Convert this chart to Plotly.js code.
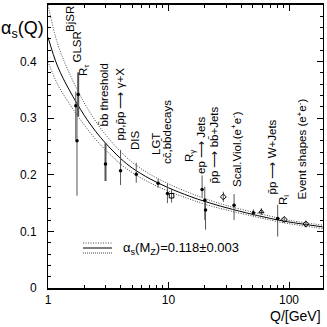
<!DOCTYPE html>
<html>
<head>
<meta charset="utf-8">
<script src="https://cdn.plot.ly/plotly-3.0.1.min.js"></script>
<style>
  body { margin: 0; background: #fff; }
  #chart { width: 327px; height: 327px; }
</style>
</head>
<body>
<div id="chart"></div>
<script>
// running coupling curves (alpha_s(MZ) = 0.118 +- 0.003)
const curveQ     = [1, 1.2, 1.5, 2, 2.5, 3, 4, 5, 7, 10, 15, 20, 30, 50, 70, 91.2, 130, 190];
const curveMid   = [0.443, 0.392, 0.350, 0.305, 0.276, 0.256, 0.229, 0.212, 0.193, 0.177, 0.162, 0.153, 0.142, 0.130, 0.123, 0.118, 0.113, 0.108];
const curveHigh  = [0.500, 0.432, 0.380, 0.327, 0.294, 0.271, 0.241, 0.222, 0.201, 0.184, 0.168, 0.158, 0.146, 0.134, 0.127, 0.121, 0.116, 0.111];
const curveLow   = [0.400, 0.360, 0.326, 0.288, 0.262, 0.244, 0.219, 0.204, 0.186, 0.171, 0.157, 0.148, 0.138, 0.127, 0.120, 0.115, 0.110, 0.105];

// filled measurements, thin error bars
const filledQ     = [1.70, 1.74, 4.0, 5.4, 8.2, 9.8, 19, 20, 20.3, 35, 50.6, 80.5];
const filledA     = [0.322, 0.260, 0.207, 0.201, 0.185, 0.167, 0.174, 0.155, 0.138, 0.146, 0.133, 0.123];
const filledUp    = [0.025, 0.062, 0.037, 0.020, 0.008, 0.017, 0.025, 0.024, 0.020, 0.020, 0.006, 0.024];
const filledDown  = [0.060, 0.097, 0.025, 0.015, 0.008, 0.017, 0.014, 0.035, 0.035, 0.026, 0.006, 0.032];

// filled measurements, thick error bars (R_tau, bb threshold)
const thickQ    = [1.78, 3.0];
const thickA    = [0.342, 0.219];
const thickUp   = [0.039, 0.037];
const thickDown = [0.039, 0.030];

// open symbols
const openQ    = [10.6, 28.5, 59, 91.2, 138];
const openA    = [0.163, 0.161, 0.135, 0.121, 0.113];
const openErr  = [0.012, 0.009, 0.006, 0.005, 0.006];
const openSym  = ['square-open', 'diamond-open', 'triangle-up-open', 'diamond-open', 'diamond-open'];

const yTickVals = [0, 0.1, 0.2, 0.3, 0.4, 0.5];
const yTickText = ['0', '0.1', '0.2', '0.3', '0.4', '0.5'];
const xTickVals = [1, 10, 100];
const xTickText = ['1', '10', '100'];

const labels = [
  'BjSR', 'GLSR', 'R<sub>τ</sub>', 'b\u0304b threshold', 'pp,p\u0304p ⟶ γ+X', 'DIS', 'LGT',
  'cc\u0304,bb\u0304decays', 'R<sub>γ</sub>', 'ep ⟶ Jets', 'p\u0304p ⟶ bb\u0304+Jets',
  'Scal.Viol.(e<sup>+</sup>e<sup>-</sup>)', 'p\u0304p ⟶ W+Jets', 'R<sub>l</sub>',
  'Event shapes (e<sup>+</sup>e<sup>-</sup>)'
];
// label anchor in page pixels: centre x, bottom y
const labelPx = [[70, 34], [77, 65], [84, 78], [103, 129], [119, 143], [135, 152], [156, 157],
  [167, 166], [190, 164], [201, 176], [213, 186], [236, 189], [272, 197], [284, 207], [301, 202]];

const L = 48, T = 5, W = 275, H = 283;
const px = x => (x - L) / W;
const py = y => (T + H - y) / H;

const font = 'Liberation Sans, Arial, sans-serif';
const barColor = '#555';
const dotLine = { color: '#444', width: 1, dash: '1px,1.5px', shape: 'spline' };

const traces = [
  { x: curveQ, y: curveHigh, mode: 'lines', line: dotLine, hoverinfo: 'skip' },
  { x: curveQ, y: curveMid, mode: 'lines', line: { color: '#000', width: 1, shape: 'spline' }, hoverinfo: 'skip' },
  { x: curveQ, y: curveLow, mode: 'lines', line: dotLine, hoverinfo: 'skip' },
  {
    x: filledQ, y: filledA, mode: 'markers',
    marker: { color: '#000', size: 3.5 },
    error_y: { type: 'data', array: filledUp, arrayminus: filledDown, width: 0, thickness: 1, color: barColor }
  },
  {
    x: thickQ, y: thickA, mode: 'markers',
    marker: { color: '#000', size: 3.5 },
    error_y: { type: 'data', array: thickUp, arrayminus: thickDown, width: 0, thickness: 2, color: barColor }
  },
  {
    x: openQ, y: openA, mode: 'markers',
    marker: { color: '#000', size: 4.5, symbol: openSym, line: { width: 1, color: '#000' } },
    error_y: { type: 'data', array: openErr, width: 0, thickness: 1, color: barColor }
  }
];

const annotations = labels.map((t, i) => ({
  text: t, xref: 'paper', yref: 'paper',
  x: px(labelPx[i][0]), y: py(labelPx[i][1]),
  xanchor: 'center', yanchor: 'bottom', textangle: -90, showarrow: false,
  font: { family: font, size: 11.5, color: '#000' }
}));

annotations.push(
  { text: 'α<sub>s</sub>(Q)', xref: 'paper', yref: 'paper', x: px(22), y: py(29), xanchor: 'center', yanchor: 'middle',
    showarrow: false, font: { family: font, size: 18, color: '#000' } },
  { text: 'Q/[GeV]', xref: 'paper', yref: 'paper', x: px(323), y: py(316), xanchor: 'right', yanchor: 'middle',
    showarrow: false, font: { family: font, size: 14, color: '#000' } },
  { text: 'α<sub>s</sub>(M<sub>Z</sub>)=0.118±0.003', xref: 'paper', yref: 'paper', x: px(121), y: py(248),
    xanchor: 'left', yanchor: 'middle', showarrow: false, font: { family: font, size: 13, color: '#000' } }
);

const shapes = [
  { type: 'line', xref: 'paper', yref: 'paper', x0: px(83), x1: px(112), y0: py(243), y1: py(243), line: { color: '#444', width: 1, dash: '1px,1.5px' } },
  { type: 'line', xref: 'paper', yref: 'paper', x0: px(83), x1: px(112), y0: py(248), y1: py(248), line: { color: '#000', width: 1 } },
  { type: 'line', xref: 'paper', yref: 'paper', x0: px(83), x1: px(112), y0: py(253), y1: py(253), line: { color: '#444', width: 1, dash: '1px,1px' } }
];

const layout = {
  width: 327, height: 327,
  margin: { l: L, r: 327 - L - W, t: T, b: 327 - T - H },
  paper_bgcolor: '#fff', plot_bgcolor: '#fff',
  showlegend: false,
  font: { family: font, size: 12, color: '#000' },
  xaxis: {
    type: 'log', range: [0, 2.282], tickmode: 'array', tickvals: xTickVals, ticktext: xTickText,
    ticks: 'inside', ticklen: 6, tickwidth: 1, tickcolor: '#000',
    minor: { ticks: 'inside', ticklen: 3, dtick: 'D1', tickcolor: '#000' },
    showline: true, linecolor: '#000', linewidth: 2, mirror: 'allticks',
    showgrid: false, zeroline: false, tickfont: { family: font, size: 12 }
  },
  yaxis: {
    range: [0, 0.5], tickmode: 'array', tickvals: yTickVals, ticktext: yTickText,
    ticks: 'inside', ticklen: 6, tickwidth: 1, tickcolor: '#000',
    minor: { ticks: 'inside', ticklen: 3, dtick: 0.02, tickcolor: '#000' },
    showline: true, linecolor: '#000', linewidth: 1, mirror: 'allticks',
    showgrid: false, zeroline: false, ticklabelstandoff: 8, tickfont: { family: font, size: 12 }
  },
  annotations: annotations,
  shapes: shapes
};

Plotly.newPlot('chart', traces, layout, { staticPlot: true });
</script>
</body>
</html>
